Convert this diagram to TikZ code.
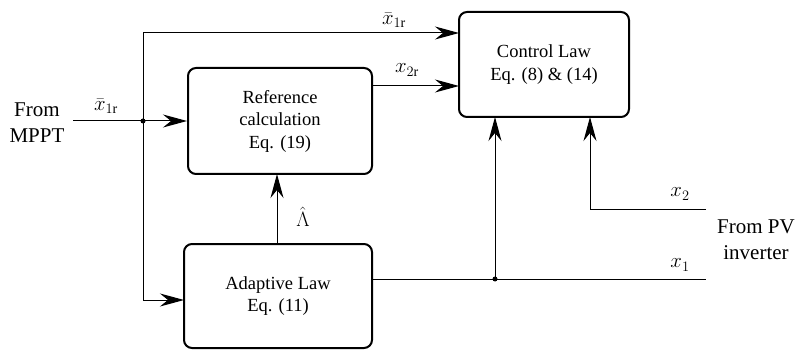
\documentclass[tikz,border=0pt]{standalone}
\usepackage{fontspec}
\setmainfont{LiberationSerif}[Extension=.ttf,UprightFont=*-Regular,BoldFont=*-Bold,ItalicFont=*-Italic]
\usetikzlibrary{arrows.meta}
\begin{document}
\begin{tikzpicture}[x=1pt,y=-1pt,
  blk/.style={draw,line width=2pt,rounded corners=8pt,align=center,inner sep=0pt,
    font=\fontsize{18.5}{22.5}\selectfont},
  conn/.style={line width=1pt},
  arr/.style={conn,-{Stealth[length=24pt,width=13pt,inset=8pt]}},
  lbl/.style={font=\fontsize{20}{24}\selectfont,inner sep=0pt},
  outer/.style={align=center,inner sep=0pt,font=\fontsize{21}{26}\selectfont},
  jdot/.style={circle,fill,inner sep=0pt,minimum size=5pt}]
\useasboundingbox (0,0) rectangle (801,350);
% blocks
\node[blk,minimum width=184pt,minimum height=106pt] (ref) at (280,121) {Reference\\calculation\\Eq. (19)};
\node[blk,minimum width=170pt,minimum height=105pt] (cl) at (544,64.5) {Control Law\\Eq. (8) \& (14)};
\node[blk,minimum width=188pt,minimum height=104pt] (ad) at (278,296) {Adaptive Law\\Eq. (11)};
% outer labels
\node[outer] (mppt) at (37,123) {From\\MPPT};
\node[outer] (pv) at (756,240) {From PV\\inverter};
% junctions and coordinates
\coordinate (in) at (73,121);
\node[jdot] (d1) at (143,121) {};
\node[jdot] (d2) at (495,279) {};
\coordinate (cltop) at (459,33);
\coordinate (refx2) at (372,86);
\coordinate (clx2) at (459,86);
\coordinate (adtop) at (277,244);
\coordinate (refbot) at (277,174);
\coordinate (adin) at (184,300);
\coordinate (adout) at (372,279);
\coordinate (x1end) at (706,279);
\coordinate (x2end) at (706,209);
\coordinate (clb1) at (495,117);
\coordinate (clb2) at (590,117);
% connectors
\draw[conn] (in) -- (d1.center);
\draw[arr] (d1.center) -- (ref.west);
\draw[arr] (d1.center) |- (cltop);
\draw[arr] (d1.center) |- (adin);
\draw[arr] (refx2) -- (clx2);
\draw[arr] (adtop) -- (refbot);
\draw[conn] (adout) -- (x1end);
\draw[arr] (d2.center) -- (clb1);
\draw[arr] (x2end) -| (clb2);
% signal labels
\node[lbl] (l1) at (106,106) {$\bar{x}_{1\mathrm{r}}$};
\node[lbl] (l2) at (394,20) {$\bar{x}_{1\mathrm{r}}$};
\node[lbl] (l3) at (407,70) {$x_{2\mathrm{r}}$};
\node[lbl] (l4) at (303,217) {$\hat{\Lambda}$};
\node[lbl] (l5) at (680,194) {$x_2$};
\node[lbl] (l6) at (680,265) {$x_1$};
\end{tikzpicture}
\end{document}
